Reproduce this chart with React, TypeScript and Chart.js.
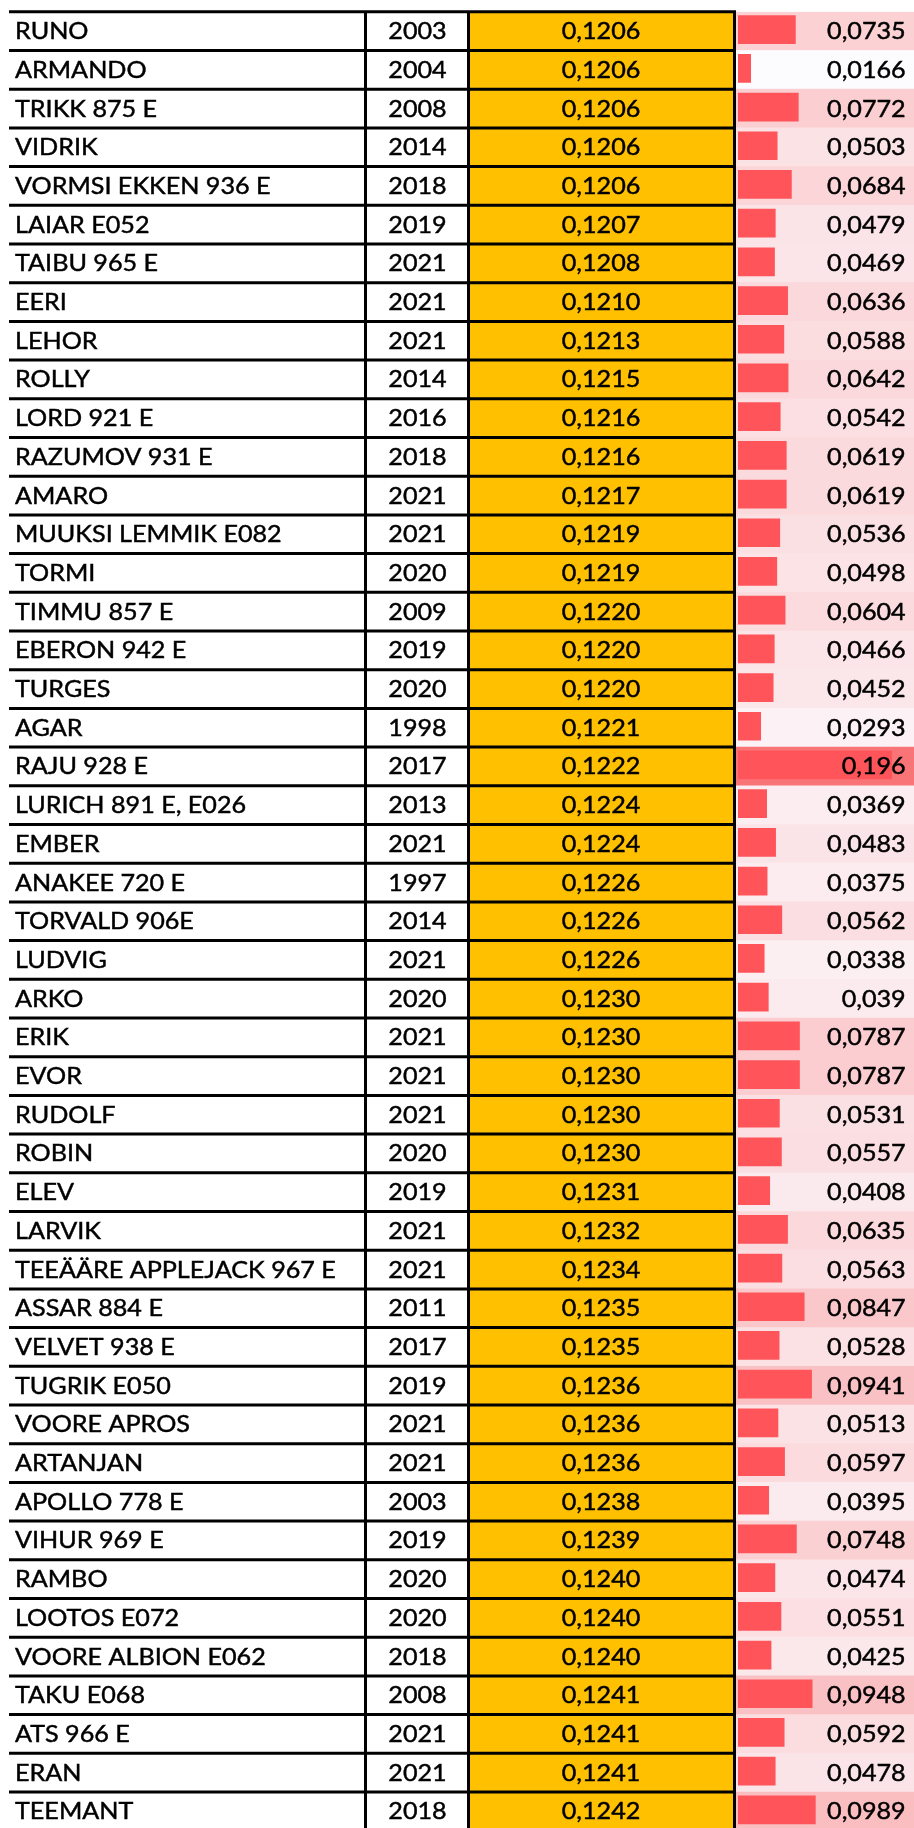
import React, { useEffect, useRef } from "react";
import { Chart, registerables } from "chart.js";

Chart.register(...registerables);

const names = [
  "RUNO", "ARMANDO", "TRIKK 875 E", "VIDRIK", "VORMSI EKKEN 936 E", "LAIAR E052",
  "TAIBU 965 E", "EERI", "LEHOR", "ROLLY", "LORD 921 E", "RAZUMOV 931 E", "AMARO",
  "MUUKSI LEMMIK E082", "TORMI", "TIMMU 857 E", "EBERON 942 E", "TURGES", "AGAR",
  "RAJU 928 E", "LURICH 891 E, E026", "EMBER", "ANAKEE 720 E", "TORVALD 906E",
  "LUDVIG", "ARKO", "ERIK", "EVOR", "RUDOLF", "ROBIN", "ELEV", "LARVIK",
  "TEEÄÄRE APPLEJACK 967 E", "ASSAR 884 E", "VELVET 938 E", "TUGRIK E050",
  "VOORE APROS", "ARTANJAN", "APOLLO 778 E", "VIHUR 969 E", "RAMBO", "LOOTOS E072",
  "VOORE ALBION E062", "TAKU E068", "ATS 966 E", "ERAN", "TEEMANT",
];

const years = [
  2003, 2004, 2008, 2014, 2018, 2019, 2021, 2021, 2021, 2014, 2016, 2018, 2021,
  2021, 2020, 2009, 2019, 2020, 1998, 2017, 2013, 2021, 1997, 2014, 2021, 2020,
  2021, 2021, 2021, 2020, 2019, 2021, 2021, 2011, 2017, 2019, 2021, 2021, 2003,
  2019, 2020, 2020, 2018, 2008, 2021, 2021, 2018,
];

const yellowValues = [
  0.1206, 0.1206, 0.1206, 0.1206, 0.1206, 0.1207, 0.1208, 0.121, 0.1213, 0.1215,
  0.1216, 0.1216, 0.1217, 0.1219, 0.1219, 0.122, 0.122, 0.122, 0.1221, 0.1222,
  0.1224, 0.1224, 0.1226, 0.1226, 0.1226, 0.123, 0.123, 0.123, 0.123, 0.123,
  0.1231, 0.1232, 0.1234, 0.1235, 0.1235, 0.1236, 0.1236, 0.1236, 0.1238, 0.1239,
  0.124, 0.124, 0.124, 0.1241, 0.1241, 0.1241, 0.1242,
];

const barValues = [
  0.0735, 0.0166, 0.0772, 0.0503, 0.0684, 0.0479, 0.0469, 0.0636, 0.0588, 0.0642,
  0.0542, 0.0619, 0.0619, 0.0536, 0.0498, 0.0604, 0.0466, 0.0452, 0.0293, 0.196,
  0.0369, 0.0483, 0.0375, 0.0562, 0.0338, 0.039, 0.0787, 0.0787, 0.0531, 0.0557,
  0.0408, 0.0635, 0.0563, 0.0847, 0.0528, 0.0941, 0.0513, 0.0597, 0.0395, 0.0748,
  0.0474, 0.0551, 0.0425, 0.0948, 0.0592, 0.0478, 0.0989,
];

// layout constants (pixels)
const CANVAS_W = 914;
const CANVAS_H = 1832;
const TOP = 11.8;
const ROW_H = 38.7;
const AREA_LEFT = 736;
const BAR_START = 738;
const PX_PER_UNIT = 785.7;
const X_MIN = -(BAR_START - AREA_LEFT) / PX_PER_UNIT;
const X_MAX = X_MIN + (CANVAS_W - AREA_LEFT) / PX_PER_UNIT;
const BAR_SHIFT = -1.5;

const COL_NAME_X = 15;
const COL_SEP1 = 365.5;
const COL_SEP2 = 468.5;
const COL_SEP3 = 734.5;
const YEAR_RIGHT = 446.7;
const YELLOW_CENTER = 601;
const VALUE_RIGHT = 905.7;

const FONT = "23.5px Lato";
const TEXT_SX = 1.07;

const lowColor = [252, 252, 255];
const highColor = [248, 116, 119];

function scaleColor(v: number, min: number, max: number) {
  const t = (v - min) / (max - min);
  const c = lowColor.map((l, i) => Math.round(l + (highColor[i] - l) * t));
  return `rgb(${c[0]},${c[1]},${c[2]})`;
}

function drawText(ctx: CanvasRenderingContext2D, s: string, x: number, y: number, align: CanvasTextAlign) {
  ctx.save();
  ctx.translate(x, y);
  ctx.scale(TEXT_SX, 1);
  ctx.textAlign = align;
  ctx.textBaseline = "alphabetic";
  ctx.fillText(s, 0, 0);
  ctx.strokeText(s, 0, 0);
  ctx.restore();
}

const barShiftPlugin = {
  id: "barShift",
  beforeDatasetDraw(chart: any, args: any) {
    if (args.index === 0) {
      chart.ctx.save();
      chart.ctx.translate(0, BAR_SHIFT);
    }
  },
  afterDatasetDraw(chart: any, args: any) {
    if (args.index === 0) chart.ctx.restore();
  },
};

const tablePlugin = {
  id: "tablePlugin",
  afterDraw(chart: any) {
    const ctx: CanvasRenderingContext2D = chart.ctx;
    const yScale = chart.scales.y;
    const n = names.length;
    const c0 = yScale.getPixelForValue(0);
    const h = yScale.getPixelForValue(1) - c0;
    const top = c0 - h / 2;
    const bottom = top + n * h;
    ctx.save();
    ctx.fillStyle = "#FFC000";
    ctx.fillRect(COL_SEP2, top, COL_SEP3 - COL_SEP2, bottom - top);

    ctx.strokeStyle = "#000000";
    ctx.lineWidth = 3;
    ctx.beginPath();
    for (let k = 0; k <= n; k++) {
      const yy = top + k * h;
      ctx.moveTo(9, yy);
      ctx.lineTo(COL_SEP3 + 1.5, yy);
    }
    for (const xx of [COL_SEP1, COL_SEP2, COL_SEP3]) {
      ctx.moveTo(xx, top - 1.5);
      ctx.lineTo(xx, bottom + 1.5);
    }
    ctx.stroke();

    ctx.fillStyle = "#000000";
    ctx.strokeStyle = "#000000";
    ctx.lineWidth = 0.45;
    ctx.font = FONT;
    for (let i = 0; i < n; i++) {
      const base = yScale.getPixelForValue(i) + 8;
      drawText(ctx, names[i], COL_NAME_X, base, "left");
      drawText(ctx, String(years[i]), YEAR_RIGHT, base, "right");
      drawText(ctx, yellowValues[i].toFixed(4).replace(".", ","), YELLOW_CENTER, base, "center");
      drawText(ctx, String(barValues[i]).replace(".", ","), VALUE_RIGHT, base, "right");
    }
    ctx.restore();
  },
};

export default function App() {
  const canvasRef = useRef<HTMLCanvasElement | null>(null);

  useEffect(() => {
    const canvas = canvasRef.current;
    if (!canvas) return;
    const vMin = Math.min(...barValues);
    const vMax = Math.max(...barValues);
    const chart = new Chart(canvas, {
      type: "bar",
      data: {
        labels: names,
        datasets: [
          {
            label: "bar",
            data: barValues,
            backgroundColor: "#FF555A",
            borderWidth: 0,
            barPercentage: 0.742,
            categoryPercentage: 1,
            grouped: false,
            order: 1,
          },
          {
            label: "background",
            data: barValues.map(() => [X_MIN, X_MAX]) as any,
            backgroundColor: barValues.map((v) => scaleColor(v, vMin, vMax)),
            borderWidth: 0,
            barPercentage: 1,
            categoryPercentage: 1,
            grouped: false,
            order: 2,
          },
        ],
      },
      options: {
        indexAxis: "y",
        responsive: false,
        maintainAspectRatio: false,
        animation: false,
        devicePixelRatio: 1,
        layout: {
          padding: {
            left: AREA_LEFT,
            right: 0,
            top: TOP,
            bottom: CANVAS_H - TOP - names.length * ROW_H,
          },
        },
        scales: {
          x: { type: "linear", display: false, min: X_MIN, max: X_MAX },
          y: { type: "category", display: false, offset: true },
        },
        plugins: {
          legend: { display: false },
          title: { display: false },
          tooltip: { enabled: false },
        },
      },
      plugins: [barShiftPlugin, tablePlugin],
    });
    return () => chart.destroy();
  }, []);

  return (
    <div
      style={{
        position: "absolute",
        left: 0,
        top: 0,
        width: CANVAS_W,
        height: 1828,
        overflow: "hidden",
        background: "#ffffff",
      }}
    >
      <canvas ref={canvasRef} width={CANVAS_W} height={CANVAS_H} style={{ display: "block" }} />
    </div>
  );
}
